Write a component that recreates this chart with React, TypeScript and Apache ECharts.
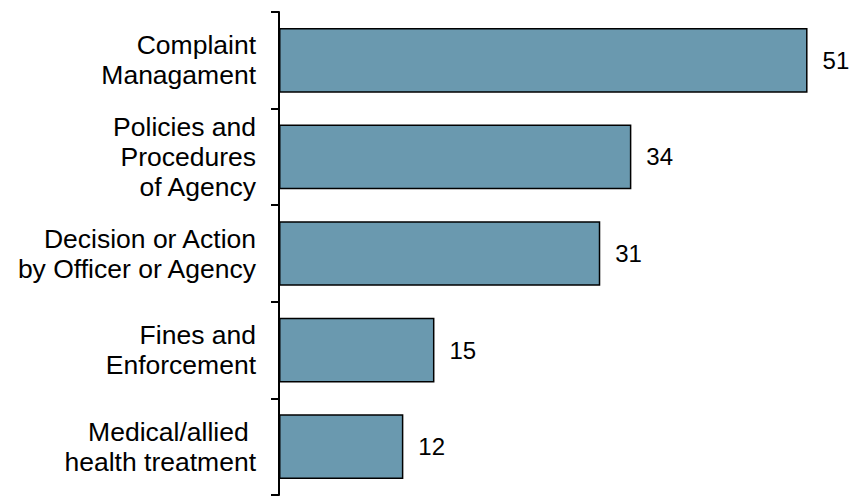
import React, { useEffect, useRef } from "react";
import * as echarts from "echarts";

const categories = [
  "Complaint\nManagament",
  "Policies and\nProcedures\nof Agency",
  "Decision or Action\nby Officer or Agency",
  "Fines and\nEnforcement",
  "Medical/allied \nhealth treatment",
];
const values = [51, 34, 31, 15, 12];

export default function App() {
  const ref = useRef<HTMLDivElement>(null);
  useEffect(() => {
    const chart = echarts.init(ref.current!, null, { renderer: "svg" });
    chart.setOption({
      animation: false,
      grid: { left: 279, top: 12, bottom: 2, right: 5, containLabel: false },
      xAxis: {
        type: "value",
        min: 0,
        max: 55,
        show: false,
      },
      yAxis: {
        type: "category",
        data: categories,
        inverse: true,
        axisLine: { show: true, lineStyle: { color: "#000", width: 2 } },
        axisTick: { show: true, length: 8, lineStyle: { color: "#000", width: 2 } },
        axisLabel: {
          margin: 23,
          color: "#000",
          fontFamily: "Liberation Sans, Arial, sans-serif",
          fontSize: 26.5,
          lineHeight: 30,
          align: "right",
        },
      },
      series: [
        {
          type: "bar",
          data: values,
          barCategoryGap: "33%",
          itemStyle: { color: "#6A99AF", borderColor: "#000", borderWidth: 1.5 },
          label: {
            show: true,
            position: "right",
            distance: 15,
            color: "#000",
            fontFamily: "Liberation Sans, Arial, sans-serif",
            fontSize: 24,
          },
        },
      ],
    });
    return () => chart.dispose();
  }, []);
  return <div ref={ref} style={{ width: 854, height: 497, position: "absolute", left: 0, top: 0 }} />;
}
